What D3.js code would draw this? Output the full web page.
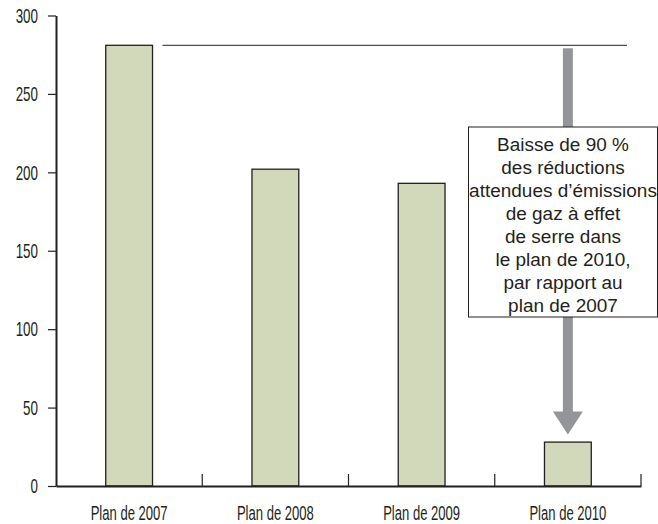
<!DOCTYPE html>
<html><head><meta charset="utf-8">
<script src="https://cdnjs.cloudflare.com/ajax/libs/d3/7.8.5/d3.min.js"></script>
<style>body{margin:0;background:#fff}svg{display:block}</style>
</head><body>
<script>
const categories = ["Plan de 2007", "Plan de 2008", "Plan de 2009", "Plan de 2010"];
const values = [281, 202, 193, 28];
const yTicks = [0, 50, 100, 150, 200, 250, 300];
const noteLines = ["Baisse de 90 %", "des réductions", "attendues d\u2019émissions", "de gaz à effet", "de serre dans", "le plan de 2010,", "par rapport au", "plan de 2007"];

const W = 658, H = 524;
const svg = d3.select("body").append("svg").attr("width", W).attr("height", H);
const sans = "'Liberation Sans',Arial,sans-serif";
const sx = 0.67; // horizontal squeeze to mimic a condensed face
const wx = 1.085; // slight widening for the note's face

const x = d3.scaleBand().domain(categories).range([56, 641]).padding(0);
const y = d3.scaleLinear().domain([0, 300]).range([486, 15.5]);

// bars
const bw = x.bandwidth() * 0.32;
svg.selectAll("rect.bar").data(values).enter().append("rect")
  .attr("x", (d, i) => x(categories[i]) + x.bandwidth() / 2 - bw / 2)
  .attr("y", d => y(d))
  .attr("width", bw)
  .attr("height", d => y(0) - y(d))
  .attr("fill", "#d2d8ba")
  .attr("stroke", "#231f20")
  .attr("stroke-width", 1.3);

// reference line at 2007 level
svg.append("line")
  .attr("x1", x(categories[0]) + x.bandwidth() / 2 + bw / 2 + 10)
  .attr("x2", 627)
  .attr("y1", y(values[0])).attr("y2", y(values[0]))
  .attr("stroke", "#231f20").attr("stroke-width", 1);

// arrow
const ax = x(categories[3]) + x.bandwidth() / 2;
const tipY = y(values[3]) - 7.5;
svg.append("rect")
  .attr("x", ax - 5).attr("y", y(values[0]) + 3)
  .attr("width", 10).attr("height", (tipY - 22) - (y(values[0]) + 3))
  .attr("fill", "#939598");
svg.append("path")
  .attr("d", d3.line()([[ax - 15, tipY - 23], [ax + 15, tipY - 23], [ax, tipY]]) + "Z")
  .attr("fill", "#939598");

// y axis
const yAxis = svg.append("g").attr("transform", "translate(56,0)")
  .call(d3.axisLeft(y).tickValues(yTicks).tickSize(8).tickPadding(10).tickSizeOuter(0));
yAxis.select(".domain").attr("stroke", "#231f20").attr("stroke-width", 2);
yAxis.selectAll(".tick line").attr("stroke", "#231f20").attr("stroke-width", 1.2);
yAxis.selectAll(".tick text").attr("font-family", sans).attr("font-size", 20).attr("fill", "#231f20")
  .attr("x", -18 / sx).attr("dy", "0.34em").attr("transform", `scale(${sx},1)`);

// x axis
const xAxis = svg.append("g").attr("transform", "translate(0,486)")
  .call(d3.axisBottom(x).tickSize(0).tickPadding(20.5));
xAxis.select(".domain").attr("stroke", "#231f20").attr("stroke-width", 2);
xAxis.selectAll(".tick text").attr("font-family", sans).attr("font-size", 19.5).attr("fill", "#231f20")
  .attr("transform", `scale(${sx},1)`);
// boundary ticks (inward)
const bounds = categories.slice(1).map(c => x(c)).concat([x.range()[1]]);
xAxis.selectAll("line.bound").data(bounds).enter().append("line")
  .attr("x1", d => d).attr("x2", d => d).attr("y1", 0).attr("y2", -12)
  .attr("stroke", "#231f20").attr("stroke-width", 1.2);

// annotation box
const bx = 468.5, by = 127, bwid = 189, bh = 190;
svg.append("rect").attr("x", bx).attr("y", by).attr("width", bwid).attr("height", bh)
  .attr("fill", "#fff").attr("stroke", "#231f20").attr("stroke-width", 1);
svg.append("text")
  .attr("font-family", sans).attr("font-size", 17.5)
  .attr("fill", "#231f20").attr("text-anchor", "middle")
  .attr("transform", `scale(${wx},1)`)
  .selectAll("tspan").data(noteLines).enter().append("tspan")
  .attr("x", (bx + bwid / 2) / wx).attr("y", (d, i) => by + 23.7 + i * 23)
  .text(d => d);
</script>
</body></html>
